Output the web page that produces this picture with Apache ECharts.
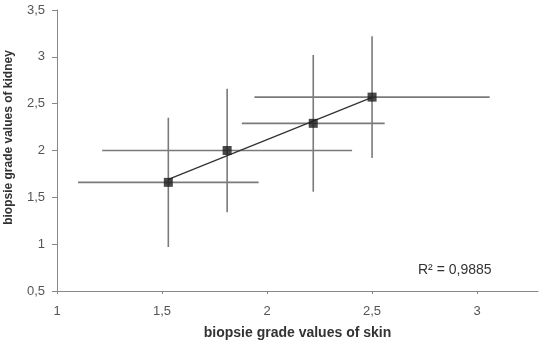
<!DOCTYPE html>
<html>
<head>
<meta charset="utf-8">
<script src="https://cdn.jsdelivr.net/npm/echarts@6/dist/echarts.min.js"></script>
<style>
  html, body { margin: 0; padding: 0; background: #fff; }
  #chart { width: 543px; height: 345px; }
</style>
</head>
<body>
<div id="chart"></div>
<script>
// Mean biopsy grades (skin vs kidney) with standard deviations
const skinMean   = [1.53, 1.81, 2.22, 2.50];
const skinSD     = [0.43, 0.595, 0.34, 0.56];
const kidneyMean = [1.66, 2.00, 2.29, 2.57];
const kidneySD   = [0.69, 0.66, 0.73, 0.65];

const xTicks = [1, 1.5, 2, 2.5, 3];
const yTicks = [0.5, 1, 1.5, 2, 2.5, 3, 3.5];
const rSquaredLabel = 'R² = 0,9885';

// Least-squares trend line across the range of the means
const n = skinMean.length;
const mx = skinMean.reduce((a, b) => a + b, 0) / n;
const my = kidneyMean.reduce((a, b) => a + b, 0) / n;
let sxy = 0, sxx = 0;
for (let i = 0; i < n; i++) {
  sxy += (skinMean[i] - mx) * (kidneyMean[i] - my);
  sxx += (skinMean[i] - mx) * (skinMean[i] - mx);
}
const slope = sxy / sxx;
const intercept = my - slope * mx;
const xLo = Math.min(...skinMean), xHi = Math.max(...skinMean);
const trend = [[xLo, intercept + slope * xLo], [xHi, intercept + slope * xHi]];

const points = skinMean.map((x, i) => [x, kidneyMean[i]]);
const errData = skinMean.map((x, i) => [x, kidneyMean[i], skinSD[i], kidneySD[i]]);

const comma = v => String(v).replace('.', ',');
const font = 'Liberation Sans, Arial, sans-serif';

const chart = echarts.init(document.getElementById('chart'), null, { renderer: 'canvas' });
chart.setOption({
  animation: false,
  backgroundColor: '#fff',
  grid: { left: 57, right: 5, top: 10, bottom: 54, containLabel: false, outerBoundsMode: 'none' },
  xAxis: {
    type: 'value', min: 1, max: 3.29, interval: 0.5,
    name: 'biopsie grade values of skin',
    nameLocation: 'middle', nameGap: 35,
    nameTextStyle: { fontFamily: font, fontWeight: 'bold', fontSize: 14, color: '#333' },
    axisLine: { onZero: false, lineStyle: { color: '#888', width: 1 } },
    axisTick: { show: true, length: 3, customValues: xTicks, lineStyle: { color: '#888' } },
    axisLabel: { customValues: xTicks, margin: 14, fontFamily: font, fontSize: 13, color: '#555', formatter: comma },
    splitLine: { show: false }
  },
  yAxis: {
    type: 'value', min: 0.5, max: 3.5, interval: 0.5,
    name: 'biopsie grade values of kidney',
    nameLocation: 'middle', nameGap: 42,
    nameTextStyle: { fontFamily: font, fontWeight: 'bold', fontSize: 12, color: '#333', padding: [0, 0, 0, 26] },
    axisLine: { show: true, onZero: false, lineStyle: { color: '#888', width: 1 } },
    axisTick: { show: true, length: 5, customValues: yTicks, lineStyle: { color: '#888' } },
    axisLabel: { customValues: yTicks, margin: 12, fontFamily: font, fontSize: 13, color: '#555', formatter: comma },
    splitLine: { show: false }
  },
  graphic: [{
    type: 'text', left: 418, top: 263,
    style: { text: rSquaredLabel, font: '14px ' + font, fill: '#333' }
  }],
  series: [
    {
      type: 'custom',
      z: 1,
      data: errData,
      renderItem: function (params, api) {
        const x = api.value(0), y = api.value(1), dx = api.value(2), dy = api.value(3);
        const l = api.coord([x - dx, y]), r = api.coord([x + dx, y]);
        const t = api.coord([x, y + dy]), b = api.coord([x, y - dy]);
        const st = { stroke: '#7a7a7a', lineWidth: 1.6 };
        return {
          type: 'group',
          children: [
            { type: 'line', shape: { x1: l[0], y1: l[1], x2: r[0], y2: r[1] }, style: st },
            { type: 'line', shape: { x1: t[0], y1: t[1], x2: b[0], y2: b[1] }, style: st }
          ]
        };
      }
    },
    {
      type: 'line',
      z: 2,
      data: trend,
      symbol: 'none',
      lineStyle: { color: '#333', width: 1.3 },
      silent: true
    },
    {
      type: 'scatter',
      z: 3,
      data: points,
      symbol: 'rect',
      symbolSize: 9,
      itemStyle: { color: '#1c1c1c' }
    }
  ]
});
</script>
</body>
</html>
